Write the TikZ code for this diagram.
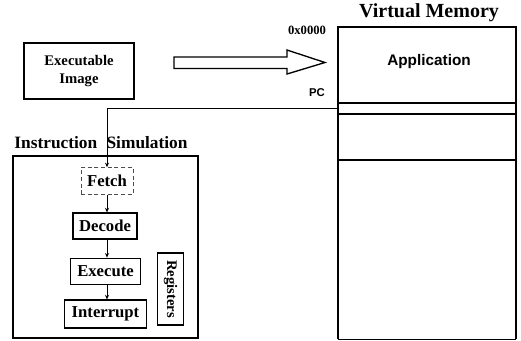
\documentclass[tikz,border=0pt]{standalone}
\usepackage{fontspec}
\setmainfont{Liberation Serif}
\newfontfamily\appfont{Liberation Sans}
\usetikzlibrary{arrows.meta}
\begin{document}
\begin{tikzpicture}[x=0.75pt,y=-0.75pt,
  blk/.style={draw, line width=0.9pt, font=\bfseries\fontsize{11}{12.5}\selectfont, inner sep=0pt},
  stage/.style={blk, fill=white, line width=0.8pt, font=\bfseries\fontsize{12.5}{14}\selectfont},
  flow/.style={-{Stealth[length=3.5pt,width=3pt]}, line width=0.6pt},
  ttl/.style={font=\bfseries\fontsize{13}{15}\selectfont, inner sep=0pt},
  mem/.style={line width=1.1pt}]
\useasboundingbox (0,0) rectangle (521,340);
% executable image
\node[blk, minimum width=82.5pt, minimum height=42pt, align=center] (exe) at (79,71) {Executable\\[1pt]Image};
% hollow arrow
\draw[line width=1pt, fill=white] (174,57) -- (287,57) -- (287,50) -- (325,62.5) -- (287,74) -- (287,68.5) -- (174,68.5) -- cycle;
% virtual memory
\node[ttl, font=\bfseries\fontsize{15}{17}\selectfont] (vmt) at (429,13) {Virtual Memory};
\node[font=\bfseries\fontsize{9.5}{11}\selectfont, inner sep=0pt] (addr) at (307,30) {0x0000};
\draw[mem] (338,339) -- (338,27) -- (516,27) -- (516,339);
\draw[line width=0.5pt] (338,339) -- (516,339);
\draw[mem] (338,103) -- (516,103);
\draw[mem] (338,114) -- (516,114);
\draw[mem] (338,160) -- (516,160);
\node[font=\appfont\bfseries\fontsize{11.5}{13}\selectfont, inner sep=0pt] (app) at (429,62) {Application};
\node[font=\appfont\bfseries\fontsize{8.5}{10}\selectfont, inner sep=0pt] (pc) at (317,93) {PC};
\coordinate (slot) at (337,108);
% instruction simulation
\node[ttl] (ist) at (101,143) {Instruction\hspace{7pt}Simulation};
\draw[line width=1pt] (13,156) rectangle (198,338);
\node[stage, draw=black!70, densely dashed, line width=0.6pt, minimum width=39pt, minimum height=20pt] (fetch) at (107,181) {Fetch};
\node[stage, minimum width=48pt, minimum height=19.5pt] (decode) at (105,226) {Decode};
\node[stage, minimum width=52pt, minimum height=20pt] (execute) at (105.5,271.5) {Execute};
\node[stage, minimum width=61pt, minimum height=21pt] (interrupt) at (105.5,314) {Interrupt};
\node[stage, minimum width=19pt, minimum height=54pt] (regs) at (170.5,289) {};
\node[font=\bfseries\fontsize{11}{12}\selectfont, rotate=-90, inner sep=0pt] (regt) at (regs.center) {Registers};
\draw[line width=0.6pt, -{Stealth[length=3.5pt,width=3pt]}] (slot) -| (fetch.north);
\draw[flow] (fetch.south) -- (decode.north -| fetch.south);
\draw[flow] (decode.south -| fetch.south) -- (execute.north -| fetch.south);
\draw[flow] (execute.south -| fetch.south) -- (interrupt.north -| fetch.south);
\end{tikzpicture}
\end{document}
